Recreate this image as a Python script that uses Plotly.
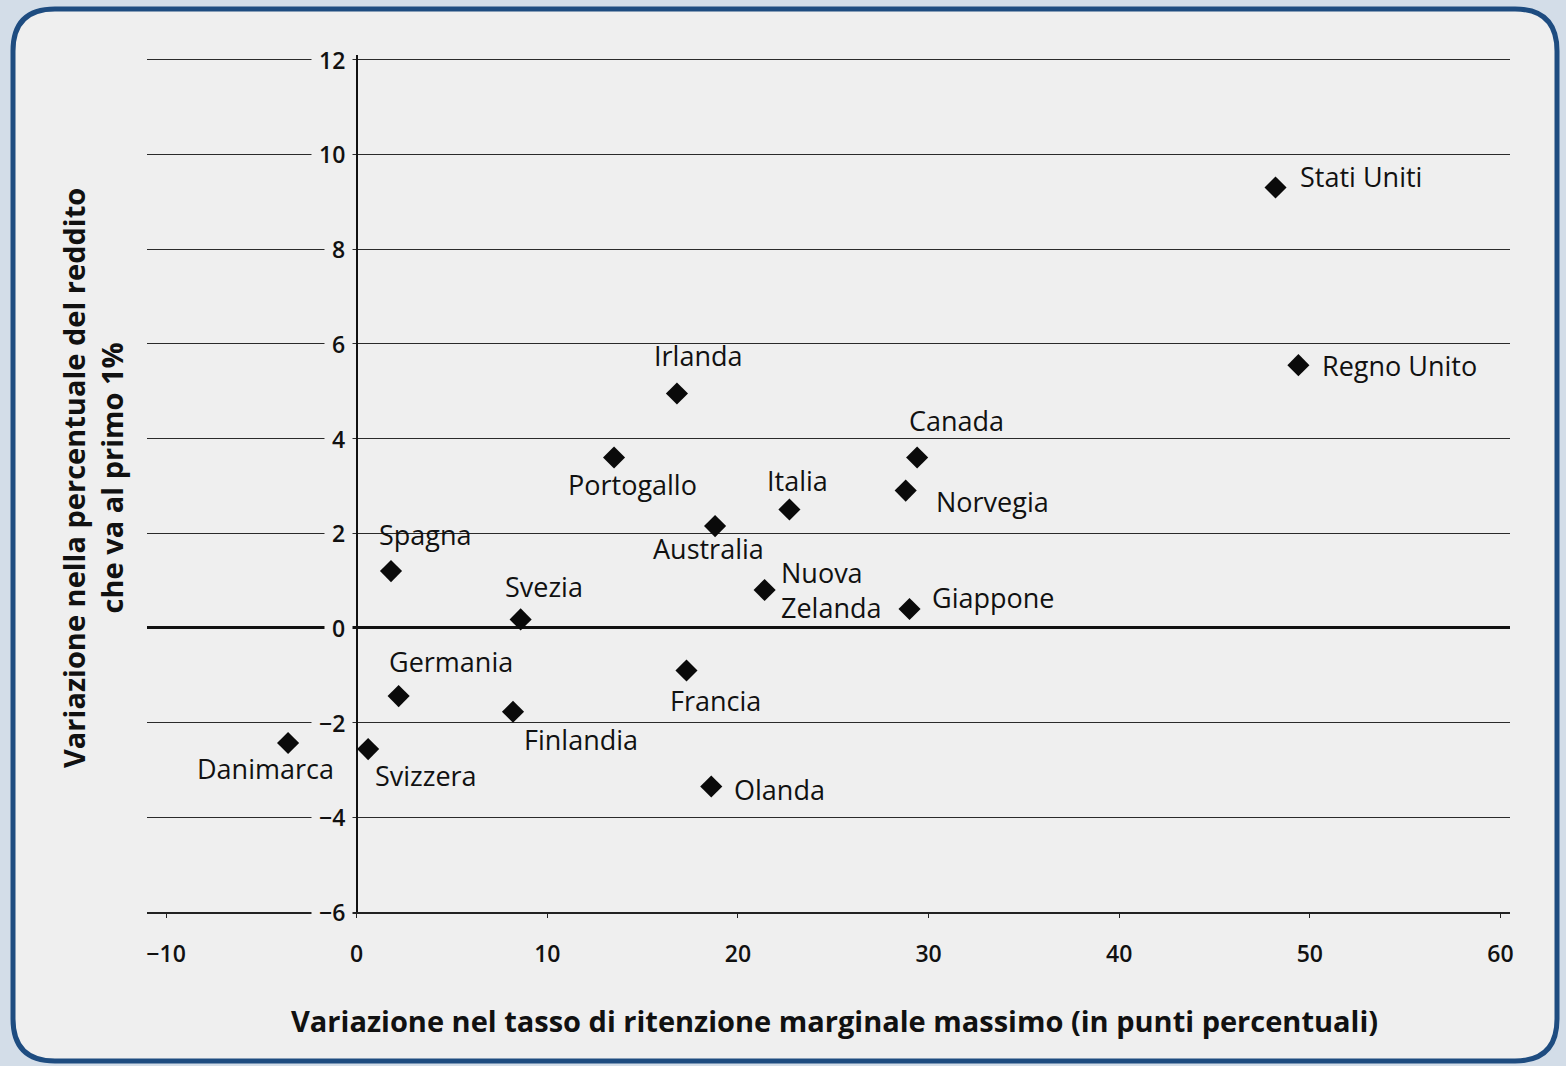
import plotly.graph_objects as go

# ---------------- data ----------------
countries = ["Stati Uniti", "Regno Unito", "Irlanda", "Portogallo", "Canada", "Norvegia",
             "Italia", "Australia", "Spagna", "Nuova<br>Zelanda", "Giappone", "Svezia",
             "Francia", "Germania", "Finlandia", "Danimarca", "Svizzera", "Olanda"]
retention_change = [48.2, 49.4, 16.8, 13.5, 29.4, 28.8, 22.7, 18.8, 1.8, 21.4, 29.0, 8.6,
                    17.3, 2.2, 8.2, -3.6, 0.6, 18.6]
top1_share_change = [9.3, 5.55, 4.95, 3.6, 3.6, 2.9, 2.5, 2.15, 1.2, 0.8, 0.4, 0.18,
                     -0.9, -1.44, -1.77, -2.43, -2.56, -3.35]
x_ticks = [-10, 0, 10, 20, 30, 40, 50, 60]
y_ticks = [-6, -4, -2, 0, 2, 4, 6, 8, 10, 12]

# ---------------- label placement (style) ----------------
label_style = {
    "Stati Uniti": ("left", 22, 11),
    "Regno Unito": ("left", 22, 0),
    "Irlanda": ("center", 21, 38),
    "Portogallo": ("center", 18, -27),
    "Canada": ("center", 39, 37),
    "Norvegia": ("left", 28, -11),
    "Italia": ("center", 8, 29),
    "Australia": ("center", -7, -22),
    "Spagna": ("center", 34, 37),
    "Nuova<br>Zelanda": ("left", 14, 0),
    "Giappone": ("left", 20, 11),
    "Svezia": ("center", 23, 33),
    "Francia": ("center", 29, -30),
    "Germania": ("center", 52, 35),
    "Finlandia": ("center", 68, -28),
    "Danimarca": ("center", -23, -26),
    "Svizzera": ("center", 58, -26),
    "Olanda": ("left", 21, -3),
}

W, H = 1566, 1066
L, R, T, B = 147, 56, 55, 154
PW, PH = W - L - R, H - T - B

def px2paper_x(px):
    return (px - L) / PW

def px2paper_y(py):
    return 1 - (py - T) / PH

TEXT = "#111111"
FONT = "Open Sans"
PAGE = "#efefef"

fig = go.Figure()
fig.add_trace(go.Scatter(
    x=retention_change, y=top1_share_change, mode="markers",
    marker=dict(symbol="diamond", size=17, color="#0a0a0a"),
    hoverinfo="skip", showlegend=False,
))

annotations = []
for name, xv, yv in zip(countries, retention_change, top1_share_change):
    anchor, dx, dy = label_style[name]
    annotations.append(dict(
        x=xv, y=yv, xref="x", yref="y", text=name, showarrow=False,
        xanchor=anchor, yanchor="middle", xshift=dx, yshift=dy,
        align="left", font=dict(family=FONT, size=27, color=TEXT),
    ))

# y tick labels sitting on the vertical axis at x = 0, masking the gridlines
for t in y_ticks:
    lab = str(t) if t >= 0 else "\u2212" + str(abs(t))
    annotations.append(dict(
        x=0, y=t, xref="x", yref="y", text=lab, showarrow=False,
        xanchor="right", yanchor="middle", xshift=-4,
        bgcolor=PAGE, borderpad=7,
        font=dict(family=FONT, size=23, color=TEXT, weight=600),
    ))

# axis titles
annotations.append(dict(
    x=px2paper_x(92), y=px2paper_y(478), xref="paper", yref="paper",
    text="Variazione nella percentuale del reddito<br>che va al primo 1%",
    showarrow=False, textangle=-90, xanchor="center", yanchor="middle",
    font=dict(family=FONT, size=29, color=TEXT, weight="bold"),
))
annotations.append(dict(
    x=px2paper_x(834), y=px2paper_y(1020), xref="paper", yref="paper",
    text="Variazione nel tasso di ritenzione marginale massimo (in punti percentuali)",
    showarrow=False, xanchor="center", yanchor="middle",
    font=dict(family=FONT, size=29, color=TEXT, weight="bold"),
))

# rounded frame (page border)
x0, x1 = px2paper_x(13), px2paper_x(1557)
y0, y1 = px2paper_y(1061), px2paper_y(9)
rx = 42 / PW
ry = 42 / PH
path = (f"M {x0+rx},{y1} L {x1-rx},{y1} Q {x1},{y1} {x1},{y1-ry} "
        f"L {x1},{y0+ry} Q {x1},{y0} {x1-rx},{y0} L {x0+rx},{y0} "
        f"Q {x0},{y0} {x0},{y0+ry} L {x0},{y1-ry} Q {x0},{y1} {x0+rx},{y1} Z")
shapes = [dict(type="path", xref="paper", yref="paper", path=path,
               fillcolor=PAGE, line=dict(color="#1e4c80", width=5), layer="below")]

fig.update_layout(
    width=W, height=H,
    margin=dict(l=L, r=R, t=T, b=B),
    paper_bgcolor="#d3dde8",
    plot_bgcolor="rgba(0,0,0,0)",
    annotations=annotations,
    shapes=shapes,
    xaxis=dict(
        range=[-11, 60.5], tickvals=x_ticks,
        ticktext=[str(v) if v >= 0 else "\u2212" + str(abs(v)) for v in x_ticks],
        showgrid=False, zeroline=True, zerolinecolor="#111111", zerolinewidth=2.2,
        showline=True, linecolor="#222222", linewidth=2,
        ticks="outside", ticklen=4, tickcolor="#222222",
        ticklabelstandoff=16,
        tickfont=dict(family=FONT, size=23, color=TEXT, weight=600),
    ),
    yaxis=dict(
        range=[-6, 12.1], tickvals=y_ticks, showticklabels=False,
        showgrid=True, gridcolor="#2a2a2a", gridwidth=1.4,
        zeroline=True, zerolinecolor="#111111", zerolinewidth=2.6,
        showline=False,
    ),
)

fig.write_html("out.html", config={"displayModeBar": False},
               post_script="document.body.style.margin='0';document.body.style.overflow='hidden';")
